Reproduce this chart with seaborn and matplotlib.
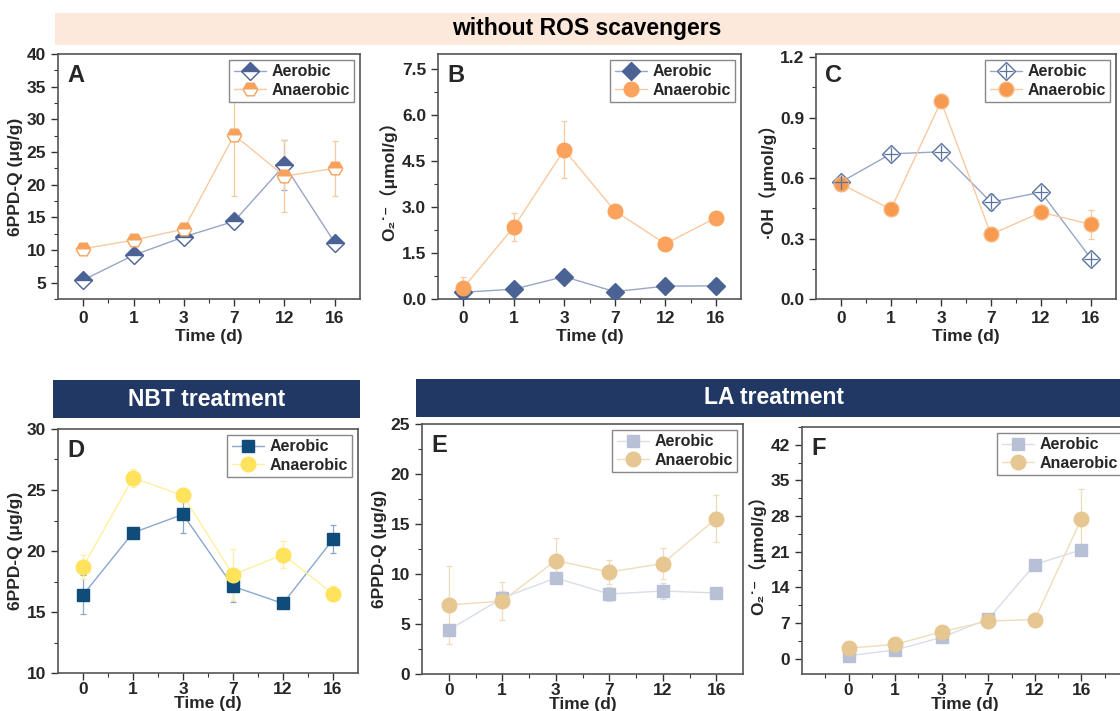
import numpy as np
import seaborn as sns
import matplotlib.pyplot as plt
from matplotlib.patches import Rectangle
from matplotlib.ticker import MultipleLocator, FixedLocator
from matplotlib.legend_handler import HandlerTuple

sns.set_style("ticks")
plt.rcParams['font.family'] = ['Liberation Sans', 'DejaVu Sans', 'Noto Sans CJK SC']
plt.rcParams['font.weight'] = 'bold'
plt.rcParams['axes.labelweight'] = 'bold'

days = ["0", "1", "3", "7", "12", "16"]
pos = np.arange(len(days))

# A: 6PPD-Q, no scavenger
a_aer = [5.4, 9.2, 12.0, 14.4, 23.0, 11.1]
a_aer_err = [0.4, 0.5, 0.5, 0.5, 3.8, 0.4]
a_ana = [10.2, 11.5, 13.2, 27.6, 21.3, 22.5]
a_ana_err = [0.5, 0.5, 0.6, 9.3, 5.5, 4.2]

# B: O2.- no scavenger
b_aer = [0.22, 0.32, 0.73, 0.24, 0.42, 0.43]
b_aer_err = [0.15, 0.05, 0.05, 0.05, 0.05, 0.22]
b_ana = [0.36, 2.35, 4.87, 2.88, 1.80, 2.65]
b_ana_err = [0.37, 0.45, 0.93, 0.05, 0.05, 0.05]

# C: .OH no scavenger
c_aer = [0.58, 0.72, 0.73, 0.48, 0.53, 0.20]
c_aer_err = [0.01, 0.02, 0.01, 0.04, 0.01, 0.01]
c_ana = [0.57, 0.445, 0.98, 0.32, 0.43, 0.37]
c_ana_err = [0.01, 0.01, 0.01, 0.01, 0.01, 0.07]

# D: 6PPD-Q, NBT
d_aer = [16.4, 21.5, 23.0, 17.1, 15.7, 20.95]
d_aer_err = [1.6, 0.2, 1.5, 1.25, 0.2, 1.15]
d_ana = [18.7, 26.0, 24.55, 18.05, 19.7, 16.5]
d_ana_err = [1.0, 0.75, 0.2, 2.1, 1.1, 0.6]

# E: 6PPD-Q, LA
e_aer = [4.4, 7.6, 9.6, 8.0, 8.3, 8.1]
e_aer_err = [0.3, 0.7, 0.4, 0.7, 0.8, 0.3]
e_ana = [6.9, 7.3, 11.35, 10.2, 11.05, 15.55]
e_ana_err = [3.9, 1.9, 2.25, 1.2, 1.55, 2.35]

# F: O2.-, LA
f_aer = [0.6, 1.7, 4.2, 7.8, 18.5, 21.4]
f_aer_err = [0.3, 0.3, 0.4, 0.5, 0.4, 0.4]
f_ana = [2.1, 2.8, 5.3, 7.4, 7.7, 27.5]
f_ana_err = [0.3, 0.3, 0.4, 1.0, 0.3, 5.8]

o2_label = "O₂˙⁻（μmol/g）"

fig = plt.figure(figsize=(11.2, 7.11), dpi=100)


def frect(x0, y0, x1, y1):
    return [x0 / 1120, 1 - y1 / 711, (x1 - x0) / 1120, (y1 - y0) / 711]


def banner(x0, y0, x1, y1, text, fc, tc, cx, fs):
    r = frect(x0, y0, x1, y1)
    fig.patches.append(Rectangle((r[0], r[1]), r[2], r[3], transform=fig.transFigure,
                                 facecolor=fc, edgecolor='none', zorder=0))
    fig.text(cx / 1120, r[1] + r[3] / 2, text, ha='center', va='center',
             color=tc, fontsize=fs, fontweight='bold')


banner(55, 13, 1120, 45, "without ROS scavengers", '#fde9dc', 'black', 587, 16.5)
banner(53, 380, 360, 418, "NBT treatment", '#213864', 'white', 207, 16.5)
banner(416, 379, 1120, 417, "LA treatment", '#213864', 'white', 774, 16.5)


def series(ax, y, err, lc, **mk):
    ax.errorbar(pos, y, yerr=err, fmt='none', ecolor=lc, elinewidth=0.9,
                capsize=2.5, capthick=0.9, zorder=2)
    sns.lineplot(x=pos, y=y, ax=ax, color=lc, linewidth=1.0, zorder=3, **mk)
    return ax.lines[-1]


def style(ax, letter, ylabel, ylim, ymaj, xlim=(-0.5, 5.5), xpad=2, tpad=3.5):
    ax.set_xlim(*xlim)
    ax.set_ylim(*ylim)
    ax.xaxis.set_major_locator(FixedLocator(pos))
    ax.set_xticklabels(days)
    ax.xaxis.set_minor_locator(FixedLocator(pos[:-1] + 0.5))
    ax.yaxis.set_major_locator(MultipleLocator(ymaj))
    ax.yaxis.set_minor_locator(MultipleLocator(ymaj / 2))
    ax.tick_params(which='major', direction='out', length=5, width=1,
                   labelsize=12.5, color='#333333')
    ax.tick_params(axis='x', which='major', pad=tpad)
    ax.tick_params(which='minor', direction='out', length=3, width=0.8, color='#333333')
    for lab in ax.get_xticklabels() + ax.get_yticklabels():
        lab.set_fontweight('bold')
    for s in ax.spines.values():
        s.set_visible(True)
        s.set_color('#555555')
        s.set_linewidth(1.2)
    ax.set_xlabel("Time (d)", fontsize=12.5, fontweight='bold', labelpad=xpad)
    ax.set_ylabel(ylabel, fontsize=12.5, fontweight='bold', labelpad=3)
    ax.text(0.03, 0.96, letter, transform=ax.transAxes, ha='left', va='top',
            fontsize=17, fontweight='bold')


def legend(ax, handles):
    lg = ax.legend(handles=handles, labels=["Aerobic", "Anaerobic"], loc='upper right',
                   frameon=True, fancybox=False, edgecolor='#888888', framealpha=1,
                   prop={'size': 11.5, 'weight': 'bold'}, handlelength=2.0,
                   labelspacing=0.2, borderpad=0.3, borderaxespad=0.35,
                   handletextpad=0.35, handler_map={tuple: HandlerTuple(ndivide=1)})
    lg.get_frame().set_linewidth(1.0)


# ---- A
ax = fig.add_axes(frect(58, 54, 360, 299))
h1 = series(ax, a_aer, a_aer_err, '#97a6c6', marker='D', markersize=9.5, fillstyle='top',
            markerfacecolor='#4a6394', markerfacecoloralt='white',
            markeredgecolor='#4a6394', markeredgewidth=1)
h2 = series(ax, a_ana, a_ana_err, '#fbc9a0', marker='H', markersize=10.5, fillstyle='top',
            markerfacecolor='#f7a25c', markerfacecoloralt='white',
            markeredgecolor='#f7a25c', markeredgewidth=1)
style(ax, "A", "6PPD-Q (μg/g)", (2.5, 40), 5)
legend(ax, [h1, h2])

# ---- B
ax = fig.add_axes(frect(438, 54, 741, 299))
h1 = series(ax, b_aer, b_aer_err, '#97a6c6', marker='D', markersize=9,
            markerfacecolor='#4a6394', markeredgecolor='#4a6394', markeredgewidth=1)
h2 = series(ax, b_ana, b_ana_err, '#fbc9a0', marker='o', markersize=10.5,
            markerfacecolor='#fba35c', markeredgecolor='#fba35c', markeredgewidth=1)
style(ax, "B", o2_label, (0, 8), 1.5)
ax.yaxis.set_major_formatter(plt.FormatStrFormatter('%.1f'))
legend(ax, [h1, h2])

# ---- C
ax = fig.add_axes(frect(816, 54, 1116, 299))
h1 = series(ax, c_aer, c_aer_err, '#97a6c6', marker='D', markersize=9,
            markerfacecolor='white', markeredgecolor='#5a73a0', markeredgewidth=1)
sns.lineplot(x=pos, y=c_aer, ax=ax, linestyle='none', marker='+', markersize=10,
             markeredgecolor='#5a73a0', markeredgewidth=0.9, zorder=4)
p1 = ax.lines[-1]
h2 = series(ax, c_ana, c_ana_err, '#fbc9a0', marker='o', markersize=10.5,
            markerfacecolor='#f59a4e', markeredgecolor='#f8b57c', markeredgewidth=1)
style(ax, "C", "·OH（μmol/g）", (0, 1.215), 0.3)
ax.yaxis.set_major_formatter(plt.FormatStrFormatter('%.1f'))
legend(ax, [(h1, p1), h2])

# ---- D
ax = fig.add_axes(frect(58, 429, 358, 673))
h1 = series(ax, d_aer, d_aer_err, '#8aa8cc', marker='s', markersize=9,
            markerfacecolor='#0f4c79', markeredgecolor='#0f4c79', markeredgewidth=1)
h2 = series(ax, d_ana, d_ana_err, '#fff0a0', marker='o', markersize=10.5,
            markerfacecolor='#ffe35c', markeredgecolor='#ffe35c', markeredgewidth=1)
style(ax, "D", "6PPD-Q (μg/g)", (10, 30), 5, xpad=-0.5, tpad=1.5)
legend(ax, [h1, h2])

# ---- E
ax = fig.add_axes(frect(422, 424, 743, 674))
h1 = series(ax, e_aer, e_aer_err, '#d8dde9', marker='s', markersize=9,
            markerfacecolor='#b8c0d6', markeredgecolor='#b8c0d6', markeredgewidth=1)
h2 = series(ax, e_ana, e_ana_err, '#f0dcb8', marker='o', markersize=10.5,
            markerfacecolor='#e6c792', markeredgecolor='#e6c792', markeredgewidth=1)
style(ax, "E", "6PPD-Q (μg/g)", (0, 25), 5, xpad=-0.5, tpad=1.5)
legend(ax, [h1, h2])

# ---- F
ax = fig.add_axes(frect(802, 427, 1128, 674))
h1 = series(ax, f_aer, f_aer_err, '#d8dde9', marker='s', markersize=9,
            markerfacecolor='#b8c0d6', markeredgecolor='#b8c0d6', markeredgewidth=1)
h2 = series(ax, f_ana, f_ana_err, '#f0dcb8', marker='o', markersize=10.5,
            markerfacecolor='#e6c792', markeredgecolor='#e6c792', markeredgewidth=1)
style(ax, "F", o2_label, (-3, 45.5), 7, xlim=(-1, 6), xpad=-0.5, tpad=1.5)
ax.xaxis.set_minor_locator(FixedLocator(np.arange(-0.5, 5.6, 1.0)))
legend(ax, [h1, h2])

fig.savefig("out.png", dpi=100)
